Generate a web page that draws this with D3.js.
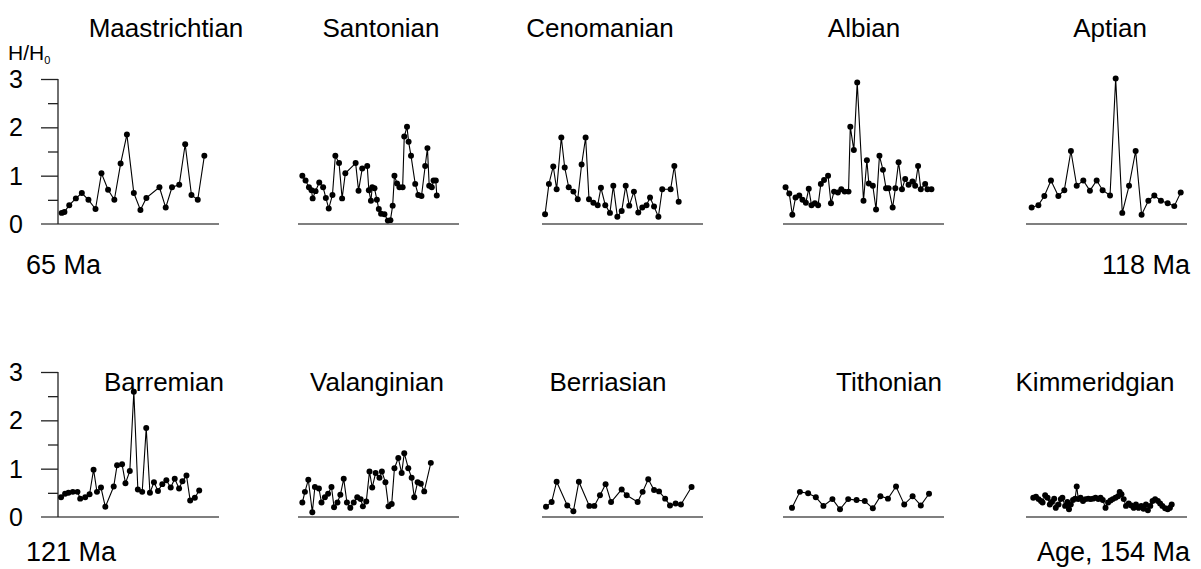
<!DOCTYPE html>
<html>
<head>
<meta charset="utf-8">
<script src="https://cdn.jsdelivr.net/npm/d3@7/dist/d3.min.js"></script>
<style>
  html, body { margin: 0; padding: 0; background: #fff; }
  svg { display: block; font-family: "Liberation Sans", Arial, sans-serif; }
</style>
</head>
<body>
<svg id="chart" width="1201" height="569"></svg>
<script>
// ---- Data: [relative position along stage (0-100), H/H0] ----
const stageNames = ["Maastrichtian", "Santonian", "Cenomanian", "Albian", "Aptian",
                    "Barremian", "Valanginian", "Berriasian", "Tithonian", "Kimmeridgian"];
const yTicks = [0, 1, 2, 3];
const yMinorTicks = [0.5, 1.5, 2.5];
const ageLabels = ["65 Ma", "118 Ma", "121 Ma", "Age, 154 Ma"];

const maastrichtian = [[2.3,0.23],[4,0.25],[7,0.39],[11.1,0.53],[14.8,0.64],[18.9,0.50],[23.3,0.31],
  [27,1.05],[31.1,0.71],[35,0.50],[38.9,1.25],[42.8,1.85],[47.1,0.64],[51.2,0.29],[54.9,0.54],
  [63,0.76],[66.9,0.34],[70.8,0.76],[75.3,0.81],[79,1.65],[82.9,0.60],[86.8,0.50],[90.9,1.41]];

const santonian = [[2.7,1.00],[4.7,0.90],[6.8,0.76],[8.4,0.70],[9.1,0.53],[10.9,0.68],[13.2,0.86],
  [15.6,0.76],[17.3,0.54],[19.1,0.32],[21.4,0.60],[23.2,1.41],[25.5,1.26],[27.4,0.53],[29.4,1.05],
  [35.8,1.26],[37.6,0.69],[39.9,1.15],[43,1.20],[44,0.70],[45.3,0.48],[46.1,0.76],[47.5,0.74],
  [49,0.50],[50.2,0.31],[51.6,0.21],[53.7,0.20],[55.8,0.07],[57.4,0.08],[58.8,0.38],[59.9,1.00],
  [61.5,0.84],[63,0.76],[65,0.76],[66,1.81],[67.7,2.01],[68.7,1.70],[70.2,1.41],[72.8,0.83],
  [74.7,0.60],[76.7,0.58],[79,1.20],[80.4,1.57],[81.5,0.79],[83.1,0.76],[84.2,0.90],[85.6,0.90],[86.2,0.59]];

const cenomanian = [[1.9,0.20],[4.3,0.83],[7,1.19],[9.1,0.72],[12,1.79],[14.1,1.17],[16.6,0.76],
  [19.5,0.67],[22.2,0.51],[24.6,1.23],[27.1,1.79],[29.2,0.51],[31.9,0.44],[34.6,0.39],[36.6,0.75],
  [39.3,0.39],[42.2,0.23],[44.3,0.79],[46.8,0.15],[49.5,0.27],[52,0.79],[54.2,0.38],[57.1,0.67],
  [59.8,0.24],[62.3,0.34],[64.9,0.39],[67.1,0.55],[69.6,0.36],[72.3,0.15],[74.7,0.72],[79.9,0.72],
  [82.2,1.20],[84.9,0.46]];

const albian = [[1.6,0.76],[3.9,0.63],[5.8,0.19],[7.8,0.55],[10.1,0.59],[12.1,0.50],[14.2,0.44],
  [16,0.73],[17.7,0.39],[19.8,0.43],[21.8,0.39],[23.5,0.83],[25.5,0.91],[28,1.00],[29.8,0.43],
  [31.7,0.67],[34.1,0.65],[36.2,0.72],[38.3,0.67],[40.7,0.67],[41.8,2.01],[44,1.53],[46.1,2.93],
  [50,0.48],[52.1,1.32],[53.3,0.84],[55.8,0.79],[57.8,0.30],[59.9,1.41],[62.1,1.12],[64,0.74],
  [65.6,0.74],[68.1,0.34],[69.8,0.74],[71.8,1.28],[73.9,0.72],[75.9,0.93],[78,0.81],[80.4,0.88],
  [82.1,0.79],[83.9,1.20],[85.6,0.72],[88.3,0.83],[89.7,0.72],[92.2,0.72]];

const aptian = [[3.5,0.34],[7.7,0.39],[11.4,0.58],[15.5,0.90],[20.1,0.58],[23.8,0.70],[27.9,1.51],
  [31.5,0.79],[35.6,0.90],[39.7,0.69],[43.9,0.90],[47.6,0.70],[52.2,0.59],[55.7,3.01],[59.8,0.23],
  [64,0.79],[68.1,1.51],[71.8,0.19],[76,0.48],[79.7,0.59],[83.8,0.48],[88,0.43],[92.1,0.37],[96.1,0.65]];

const barremian = [[1.9,0.41],[4.4,0.48],[6.5,0.50],[9.2,0.52],[12.1,0.52],[13.8,0.38],[16.9,0.41],
  [19.6,0.47],[22.1,0.98],[24.2,0.52],[26.7,0.61],[29.4,0.21],[34.6,0.63],[36.7,1.07],[39.8,1.09],
  [41.9,0.70],[44.6,0.95],[47.1,2.59],[49.6,0.57],[52.3,0.52],[54.8,1.84],[57.1,0.50],[59.6,0.72],
  [62.1,0.54],[64.8,0.68],[67.3,0.76],[70,0.61],[72.5,0.79],[75.2,0.59],[77.3,0.74],[79.8,0.86],
  [82.1,0.34],[85,0.40],[87.7,0.55]];

const valanginian = [[2.7,0.30],[4.3,0.52],[6.4,0.77],[8.9,0.10],[10.5,0.62],[13,0.59],[14.6,0.30],
  [16.7,0.41],[18.7,0.48],[20.8,0.62],[22.4,0.20],[24.5,0.30],[26.3,0.46],[28.4,0.79],[30.4,0.30],
  [32.5,0.19],[34.6,0.30],[36.8,0.41],[38.9,0.37],[40.3,0.22],[42.4,0.32],[44.4,0.94],[46.1,0.61],
  [48.2,0.91],[50.6,0.81],[52.1,0.94],[54.3,0.72],[56.2,0.22],[58.2,0.27],[59.9,1.01],[62.3,1.22],
  [64.4,0.91],[66,1.32],[68.5,1.01],[70.6,0.81],[72.2,0.41],[74.3,0.72],[76.3,0.69],[78.4,0.53],[82.5,1.12]];

const berriasian = [[2.5,0.21],[6,0.31],[9.1,0.73],[15.7,0.24],[19.5,0.12],[22.9,0.73],[29.4,0.23],
  [32.5,0.23],[36,0.45],[39.5,0.68],[42.9,0.31],[49.5,0.57],[52.6,0.45],[59.4,0.31],[62.5,0.52],
  [66,0.78],[69.6,0.56],[72.7,0.53],[76.5,0.38],[79.5,0.24],[83,0.28],[86.3,0.26],[92.9,0.62]];

const tithonian = [[5.6,0.19],[10.5,0.52],[15.6,0.49],[20.4,0.41],[25.1,0.23],[30.7,0.37],[35.4,0.16],
  [40.5,0.37],[45.7,0.35],[50.8,0.33],[55.8,0.18],[60.5,0.43],[65.2,0.38],[70.2,0.63],[75.3,0.26],
  [80.5,0.43],[85.6,0.24],[90.7,0.48]];

const kimmeridgian = [[4.5,0.40],[6.2,0.42],[7.8,0.37],[9.3,0.33],[10.3,0.30],[11.9,0.45],[13.4,0.40],
  [14.8,0.26],[16,0.31],[17.5,0.38],[18.5,0.19],[20.2,0.26],[21.6,0.37],[22.6,0.40],[24.3,0.23],
  [25.7,0.31],[26.7,0.16],[27.8,0.26],[29.2,0.35],[30.5,0.38],[31.5,0.63],[32.5,0.37],[33.9,0.40],
  [35.4,0.33],[37,0.37],[38.7,0.38],[40.1,0.37],[41.6,0.38],[43.2,0.40],[44.9,0.37],[46.3,0.40],
  [47.7,0.35],[49.4,0.19],[51,0.30],[52.5,0.34],[53.9,0.37],[55.6,0.40],[57.2,0.43],[58.2,0.52],
  [59.3,0.47],[60.7,0.37],[62.1,0.23],[63.8,0.28],[65.4,0.24],[66.9,0.19],[68.3,0.26],[69.9,0.19],
  [71.6,0.23],[73,0.17],[74.5,0.26],[75.7,0.14],[77.2,0.23],[78.6,0.33],[80.2,0.37],[81.9,0.33],
  [83.3,0.28],[84.7,0.23],[86.4,0.18],[88,0.16],[89.4,0.19],[90.5,0.26]];

const stageData = [maastrichtian, santonian, cenomanian, albian, aptian,
                   barremian, valanginian, berriasian, tithonian, kimmeridgian];

// ---- Layout ----
const svg = d3.select("#chart");
const colX = [58, 298, 542, 783, 1026];
const panelW = 161;
const rowBase = [224, 517];
const panelH = 145;
const titleX = [166, 381, 600, 864, 1110, 164, 377, 608, 889, 1095];
const titleDy = [-187, -126];
const TITLE_FONT = 26;
const LABEL_FONT = 27;

stageData.forEach((pts, i) => {
  const r = Math.floor(i / 5), c = i % 5;
  const x0 = colX[c], yb = rowBase[r];
  const x = d3.scaleLinear().domain([0, 100]).range([x0, x0 + panelW]);
  const y = d3.scaleLinear().domain([0, 3]).range([yb, yb - panelH]);
  const g = svg.append("g");

  // baseline
  const bStart = c === 0 ? x0 - 17 : x0;
  g.append("line").attr("x1", bStart).attr("x2", x0 + panelW)
    .attr("y1", y(0)).attr("y2", y(0))
    .attr("stroke", "#555").attr("stroke-width", 1.6);

  if (c === 0) {
    const ax = g.append("g").attr("transform", `translate(${x0},0)`)
      .call(d3.axisLeft(y).tickValues(yTicks.filter(t => t > 0)).tickSize(17).tickFormat(""));
    ax.select(".domain").attr("stroke", "#222").attr("stroke-width", 1.3)
      .attr("d", `M0,${y(3)}V${y(0)}`);
    ax.selectAll(".tick line").attr("stroke", "#222").attr("stroke-width", 1.3);
    const ax2 = g.append("g").attr("transform", `translate(${x0},0)`)
      .call(d3.axisLeft(y).tickValues(yMinorTicks).tickSize(10).tickFormat(""));
    ax2.select(".domain").remove();
    ax2.selectAll(".tick line").attr("stroke", "#222").attr("stroke-width", 1.3);
    g.selectAll("text.ytl").data(yTicks).join("text").attr("class", "ytl")
      .attr("x", 16).attr("y", d => y(d)).attr("dy", "0.36em")
      .attr("text-anchor", "middle").attr("font-size", 25).text(d => d);
  }

  const line = d3.line().x(d => x(d[0])).y(d => y(d[1]));
  g.append("path").datum(pts).attr("d", line)
    .attr("fill", "none").attr("stroke", "#000").attr("stroke-width", 1.1);
  g.selectAll("path.pt").data(pts).join("path").attr("class", "pt")
    .attr("transform", d => `translate(${x(d[0])},${y(d[1])})`)
    .attr("d", d3.symbol(d3.symbolCircle, 28)).attr("fill", "#000");

  g.append("text").attr("x", titleX[i]).attr("y", yb + titleDy[r])
    .attr("text-anchor", "middle").attr("font-size", TITLE_FONT).text(stageNames[i]);
});

// H/H0 label
const hl = svg.append("text").attr("x", 8).attr("y", 60).attr("font-size", 21);
hl.append("tspan").text("H/H");
hl.append("tspan").attr("font-size", 11).attr("dy", 4).text("0");

// Age labels
svg.append("text").attr("x", 26).attr("y", 274).attr("font-size", LABEL_FONT).text(ageLabels[0]);
svg.append("text").attr("x", 1190).attr("y", 274).attr("text-anchor", "end").attr("font-size", LABEL_FONT).text(ageLabels[1]);
svg.append("text").attr("x", 26).attr("y", 561).attr("font-size", LABEL_FONT).text(ageLabels[2]);
svg.append("text").attr("x", 1190).attr("y", 561).attr("text-anchor", "end").attr("font-size", LABEL_FONT).text(ageLabels[3]);
</script>
</body>
</html>
